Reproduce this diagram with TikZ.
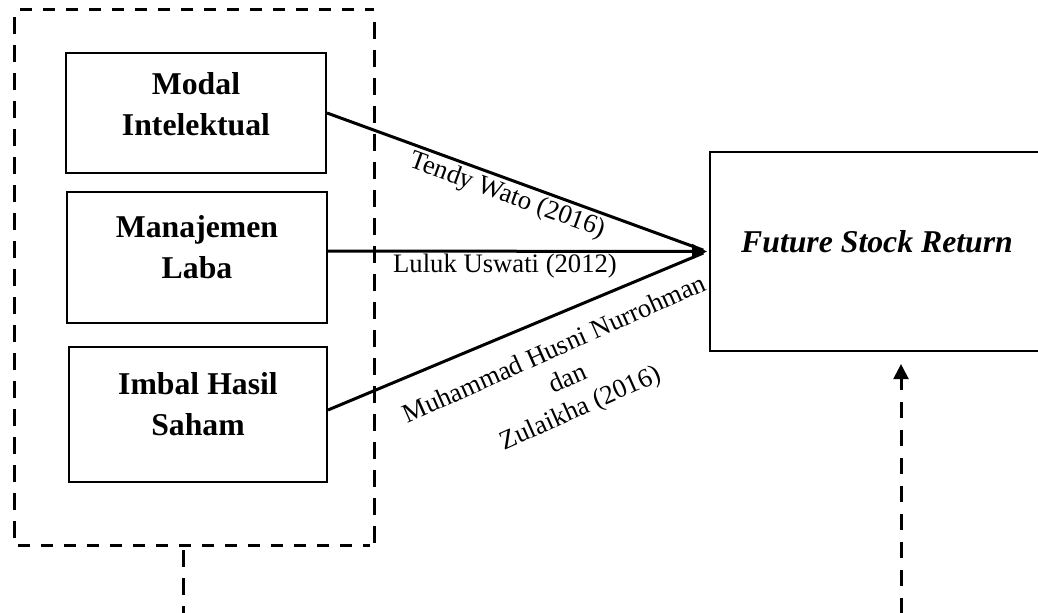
\documentclass[tikz,border=0pt]{standalone}
\usepackage{fontspec}
\setmainfont{Liberation Serif}
\usetikzlibrary{arrows.meta,calc}
\begin{document}
\begin{tikzpicture}[x=0.75pt,y=-0.75pt,
  varbox/.style={draw, line width=1.5pt, inner sep=0pt},
  boxtext/.style={font=\fontsize{23.8}{30.8}\selectfont\bfseries, align=center},
  conn/.style={line width=2.25pt},
  headtip/.style={-{Triangle[length=11.25pt,width=11pt]}},
  dashv/.style={line width=2.25pt, dash pattern=on 12.75pt off 8.25pt},
  dashh/.style={line width=2.25pt, dash pattern=on 9pt off 8.25pt},
  cite/.style={font=\fontsize{20}{24}\selectfont, align=center, inner sep=0pt}]
\useasboundingbox (0,0) rectangle (1038,613);
\clip (0,0) rectangle (1038,613);

% outer dashed group
\coordinate (gtl) at (20,10);
\coordinate (gtr) at (374,10);
\coordinate (glt) at (14,17);
\coordinate (glb) at (14,545);
\coordinate (grt) at (374,22);
\coordinate (grb) at (374,545);
\coordinate (gbl) at (18,545);
\coordinate (gbr) at (370,545);
\draw[dashh] (gtl) -- (gtr);
\draw[dashh] (gbl) -- (gbr);
\draw[dashv] (glt) -- (glb);
\draw[dashv] (grt) -- (grb);

% variable boxes
\node[varbox, minimum width=195pt, minimum height=90pt,
  label={[boxtext,yshift=6.75pt]center:Modal\\Intelektual}] (mi) at (196,113) {};
\node[varbox, minimum width=195pt, minimum height=98.25pt,
  label={[boxtext,yshift=7.5pt]center:Manajemen\\Laba}] (ml) at (197,257.5) {};
\node[varbox, minimum width=193.5pt, minimum height=101.25pt,
  label={[boxtext,yshift=7.5pt]center:Imbal Hasil\\Saham}] (ih) at (198,414.5) {};
\node[varbox, minimum width=250.5pt, minimum height=149.25pt,
  label={[font=\fontsize{23.8}{30.8}\selectfont\bfseries\itshape,yshift=7.5pt]center:Future Stock Return}] (fr) at (877,251.5) {};

% connectors
\coordinate (tip) at ($(fr.west)+(-2,0)$);
\draw[conn, shorten >=3pt] (mi.east) -- (tip);
\draw[conn, headtip] ($(ml.east)+(0,-6.5)$) -- (tip);
\draw[conn, shorten >=3pt] ($(ih.east)+(0,-4.5)$) -- (tip);

% labels
\node[cite, rotate=-20, anchor=base] (l1) at (505,202) {Tendy Wato (2016)};
\node[cite, anchor=base] (l2) at (505,272.7) {Luluk Uswati (2012)};
\node[cite, rotate=24] (l3) at (568,380) {Muhammad Husni Nurrohman\\dan\\Zulaikha (2016)};

% lower dashed lines
\coordinate (stubtop) at (183,550);
\coordinate (stubbot) at (183,625);
\draw[dashv] (stubtop) -- (stubbot);
\coordinate (rtip) at ($(fr.south)+(24,12)$);
\coordinate (rbot) at (901,625);
\draw[line width=2.25pt, dash pattern=on 12pt off 9pt, dash phase=3pt,
  {Triangle[length=11.25pt,width=11pt]}-] (rtip) -- (rbot);
\end{tikzpicture}
\end{document}
